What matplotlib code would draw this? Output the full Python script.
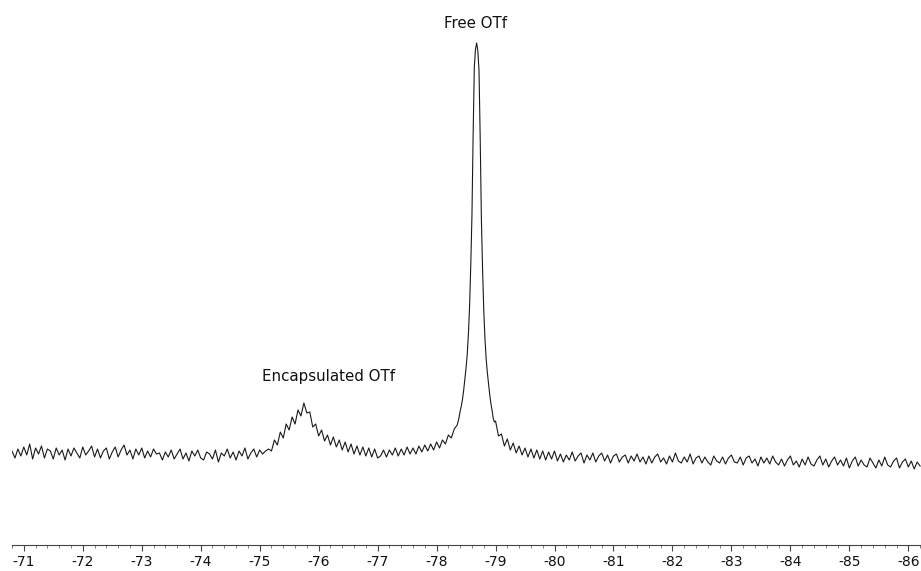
import numpy as np
import matplotlib.pyplot as plt

plt.rcParams['axes.unicode_minus'] = False

# 19F NMR spectrum, shifts in ppm, intensity in arbitrary units
# baseline + encapsulated peak, sampled every 0.05 ppm from -70.80
int_a = [4, -3, 6, -1, 8, 0, 11, -4, 7, 1, 9, -3, 6, 4, -4, 7, 0, 5, -5, 6,
         -1, 7, 2, -3, 8, 0, 4, 9, -2, 6, -3, 4, 7, -4, 3, 8, -2, 5, 10, 0,
         5, -4, 6, 0, 7, -3, 4, -2, 6, 1]
int_b = [2, -5, 3, -2, 5, -4, 1, 6, -4, 2, -6, 4, -1, 5, -3, -5, 3, 1, -4, 5,
         -7, 2, -1, 6, -3, 3, -5, 4, -1, 7, -4, 2, 6, -2, 5, 1, 4]
int_encap = [6, 4, 15, 10, 23, 17, 31, 25, 38, 31, 45, 39, 52, 42, 43, 28, 31, 19, 25, 14,
             20, 10, 18, 8, 15, 5, 13, 3, 11, 1, 9, 0, 8, -1, 7, -2, 6, -3]
int_c = [-1, 5, -2, 5, 0, 7, -1, 6, 0, 8, 1, 7, 1, 9, 3, 10, 4, 11, 5, 13,
         7, 15, 11, 20, 17, 26, 30]

# free OTf peak core, sampled every 0.02 ppm from -78.38
int_free = [37, 44, 49, 56, 65, 76, 87, 101, 121, 149, 190, 240, 320, 388, 406, 412,
            404, 384, 316, 236, 186, 145, 117, 97, 83, 72, 61, 52, 45, 37, 33]

# right side, sampled every 0.05 ppm from -79.00
int_d = [34, 19, 21, 9, 16, 5, 12, 2, 9, 0, 7, -2, 6, -3, 5, -4, 4, -5, 3, -4, 4, -6]
int_e = [1, -7, 0, -5, 3, -6, -1, 2, -8, 0, -5, 2, -7, -1, 2, -6, 0, -8, -1, 1,
         -7, -2, 0, -8, -1, -6, 1, -7, -2, -9]
int_f = [-1, -8, -2, 1, -7, -3, -9, -1, -7, 2, -6, -8, -2, -7, 1, -9, -3, -1, -8, -2,
         -7, -10, -1, -6, -8, -2, -9, -3, 0, -7, -8, -2, -10, -3, -1, -8, -4, -11, -2, -8,
         -3, -9, -1, -7, -10]
int_g = [-4, -11, -5, -1, -10, -6, -12, -4, -10, -2, -9, -11, -5, -1, -10, -4, -12, -6, -2, -10,
         -5, -11, -3, -13, -6, -2, -11, -5, -10, -12, -3, -8, -13, -5, -11, -2, -10, -12, -6, -3,
         -13, -7, -4, -12, -6, -14, -7, -11]

left = int_a + int_b + int_encap + int_c
right = int_d + int_e + int_f + int_g
ppm_left = -70.80 - 0.05 * np.arange(len(left))
ppm_free = -78.38 - 0.02 * np.arange(len(int_free))
ppm_right = -79.00 - 0.05 * np.arange(len(right))

ppm = np.concatenate([ppm_left, ppm_free, ppm_right])
intensity = np.array(left + int_free + right, dtype=float)

fig = plt.figure(figsize=(9.21, 5.71), dpi=100)
ax = fig.add_axes([12 / 921, 1 - 545 / 571, 909 / 921, 545 / 571])
ax.plot(ppm, intensity, color='#1a1a1a', lw=0.8)

ax.set_xlim(-70.81, -86.215)
ax.set_ylim(-90, 455)

ax.text(-78.656, 432, 'Free OTf', ha='center', va='center', fontsize=10.8, color='#111')
ax.text(-76.164, 79, 'Encapsulated OTf', ha='center', va='center', fontsize=10.8, color='#111')

for s in ['top', 'left', 'right']:
    ax.spines[s].set_visible(False)
ax.spines['bottom'].set_color('#444')
ax.spines['bottom'].set_linewidth(0.8)
ax.set_yticks([])
ax.set_xticks(np.arange(-71, -87, -1))
ax.set_xticks(np.arange(-70.8, -86.3, -0.2), minor=True)
ax.tick_params(axis='x', which='major', length=4, width=0.8, color='#444',
               labelsize=10, pad=3.5, labelcolor='#111')
ax.tick_params(axis='x', which='minor', length=2, width=0.6, color='#666')

fig.savefig('out.png', dpi=100)
